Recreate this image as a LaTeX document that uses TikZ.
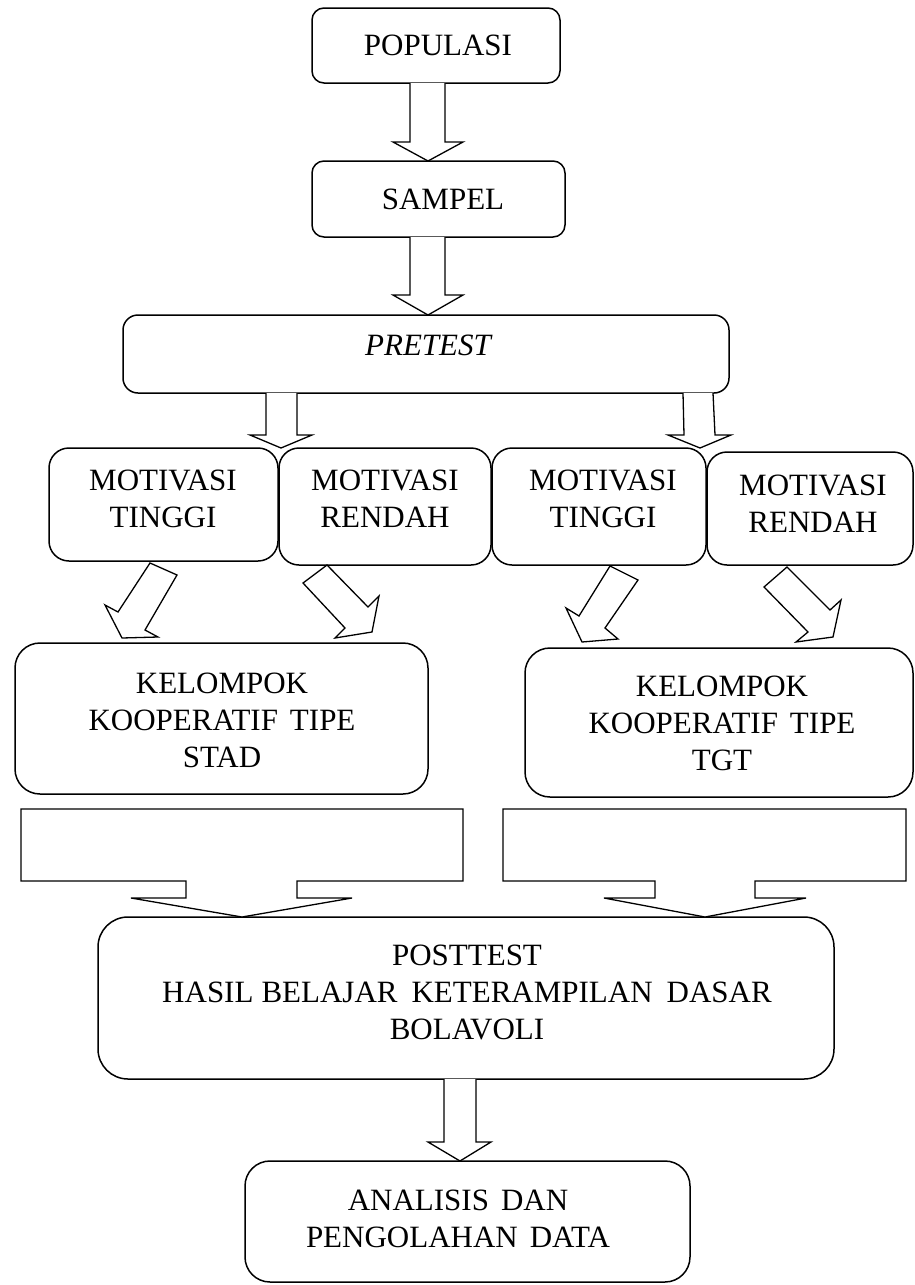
\documentclass[tikz,border=0pt]{standalone}
\usepackage{fontspec}
\setmainfont{Liberation Serif}
\newcommand\wgap{\hspace{12pt}}
\begin{document}
\begin{tikzpicture}[x=1pt,y=-1pt,
  box/.style={draw, line width=1.5pt, inner sep=0pt},
  txt/.style={inner sep=0pt, align=center, font=\fontsize{31}{37}\selectfont},
  blk/.style={draw, line width=1.3pt, fill=white, line join=miter}]
\useasboundingbox (0,0) rectangle (914,1285);
% boxes
\node[box, rounded corners=12pt, minimum width=248pt, minimum height=75pt] (pop) at (436,45.5) {};
\node[box, rounded corners=12pt, minimum width=253pt, minimum height=76pt] (samp) at (438.5,199) {};
\node[box, rounded corners=15pt, minimum width=606pt, minimum height=78pt] (pre) at (426,354) {};
\node[box, rounded corners=20pt, minimum width=229pt, minimum height=113pt] (m1) at (163.5,504.5) {};
\node[box, rounded corners=20pt, minimum width=212pt, minimum height=117pt] (m2) at (385,506.5) {};
\node[box, rounded corners=20pt, minimum width=214pt, minimum height=117pt] (m3) at (599,506.5) {};
\node[box, rounded corners=20pt, minimum width=206pt, minimum height=113pt] (m4) at (810,508.5) {};
\node[box, rounded corners=25pt, minimum width=413pt, minimum height=151pt] (stad) at (221.5,718.5) {};
\node[box, rounded corners=25pt, minimum width=388pt, minimum height=149pt] (tgt) at (719,722.5) {};
\node[box, rounded corners=30pt, minimum width=736pt, minimum height=162pt] (post) at (466,998) {};
\node[box, rounded corners=25pt, minimum width=445pt, minimum height=121pt] (ana) at (467.5,1221.5) {};
% texts
\node[txt] (tpop) at (438,45) {POPULASI};
\node[txt] (tsamp) at (443,199) {SAMPEL};
\node[txt] (tpre) at (428,345) {\itshape PRETEST};
\node[txt] (tm1) at (163,498.5) {MOTIVASI\\TINGGI};
\node[txt] (tm2) at (385,498.5) {MOTIVASI\\RENDAH};
\node[txt] (tm3) at (603,498.5) {MOTIVASI\\TINGGI};
\node[txt] (tm4) at (813,503.5) {MOTIVASI\\RENDAH};
\node[txt] (tstad) at (222,720) {KELOMPOK\\KOOPERATIF\wgap TIPE\\STAD};
\node[txt] (ttgt) at (722,723) {KELOMPOK\\KOOPERATIF\wgap TIPE\\TGT};
\node[txt] (tpost) at (467,992) {POSTTEST\\HASIL\hspace{8pt}BELAJAR\hspace{14pt}KETERAMPILAN\hspace{14pt}DASAR\\BOLAVOLI};
\node[txt] (tana) at (458,1219) {ANALISIS\wgap DAN\\PENGOLAHAN\wgap DATA};
% vertical block arrows
\draw[blk] (410,83) -- (410,142) -- (393,142) -- (428,161) -- (463,142) -- (445,142) -- (445,83);
\draw[blk] (410,237) -- (410,295) -- (393,295) -- (428,315) -- (463,295) -- (445,295) -- (445,237);
\draw[blk] (266,393) -- (266,435) -- (250,435) -- (281,448) -- (312,435) -- (297,435) -- (297,393);
\draw[blk] (683,393) -- (684,435) -- (668,435) -- (700,448) -- (731,435) -- (715,435) -- (713,393);
\draw[blk] (444,1079) -- (444,1142) -- (428,1142) -- (460,1161) -- (491,1142) -- (476,1142) -- (476,1079);
% diagonal block arrows
\draw[blk] (150,563) -- (177,575) -- (145,630) -- (158,637) -- (122,638) -- (105,605) -- (118,612) -- cycle;
\draw[blk] (303,583) -- (327,565) -- (368,607) -- (379,596) -- (372,632) -- (335,638) -- (345,628) -- cycle;
\draw[blk] (610,566) -- (638,580) -- (605,628) -- (618,639) -- (582,642) -- (566,608) -- (579,616) -- cycle;
\draw[blk] (764,587) -- (787,567) -- (830,610) -- (841,600) -- (833,637) -- (796,642) -- (808,632) -- cycle;
% bottom wide block arrows
\draw[blk] (21,809) -- (463,809) -- (463,881) -- (297,881) -- (297,898) -- (352,898) -- (242,917) -- (131,898) -- (186,898) -- (186,881) -- (21,881) -- cycle;
\draw[blk] (503,809) -- (906,809) -- (906,881) -- (755,881) -- (755,898) -- (806,898) -- (705,917) -- (604,898) -- (655,898) -- (655,881) -- (503,881) -- cycle;
\end{tikzpicture}
\end{document}
